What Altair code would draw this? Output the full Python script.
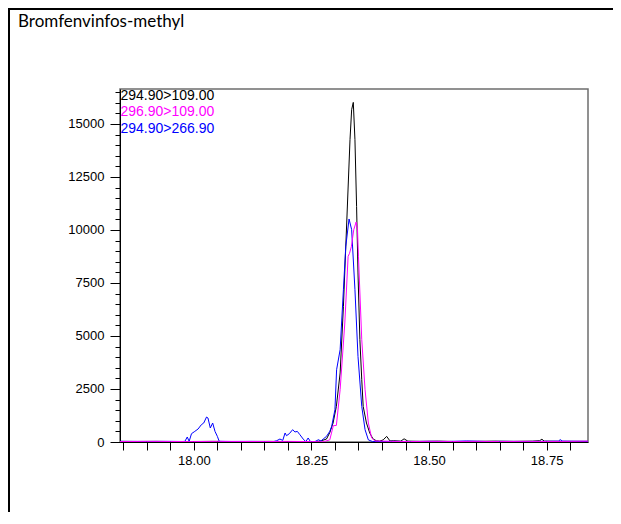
import altair as alt
import pandas as pd

title_text = "Bromfenvinfos-methyl"
series_names = ["294.90>109.00", "296.90>109.00", "294.90>266.90"]
series_colors = ["#000000", "#ff00ff", "#0000ff"]

black_t = [17.843, 17.88, 17.92, 17.96, 18.00, 18.04, 18.08, 18.12, 18.16, 18.20, 18.24, 18.26, 18.27,
           18.282, 18.289, 18.296, 18.303, 18.311, 18.318, 18.325, 18.332, 18.3355, 18.339, 18.3425,
           18.346, 18.349, 18.353, 18.357, 18.360, 18.367, 18.374, 18.381, 18.388, 18.395, 18.4025,
           18.41, 18.417, 18.425, 18.44, 18.447, 18.455, 18.48, 18.52, 18.56, 18.60, 18.64, 18.68,
           18.72, 18.735, 18.74, 18.745, 18.78, 18.838]
black_v = [30, 25, 30, 20, 25, 30, 20, 25, 30, 20, 10, 20, 50,
           140, 440, 896, 1679, 3255, 6396, 10330, 14260, 15675, 16019, 14260,
           11113, 7972, 4826, 2939, 1679, 896, 425, 140, 60, 40, 100,
           264, 50, 60, 40, 150, 40, 30, 40, 20, 30, 40, 30,
           40, 60, 130, 40, 30, 30]

magenta_t = [17.843, 17.90, 17.95, 18.00, 18.05, 18.10, 18.15, 18.20, 18.25, 18.275, 18.289, 18.2965,
             18.303, 18.311, 18.321, 18.328, 18.331, 18.335, 18.340, 18.345, 18.348, 18.350, 18.357,
             18.364, 18.371, 18.378, 18.385, 18.42, 18.46, 18.50, 18.55, 18.60, 18.65, 18.70, 18.75,
             18.80, 18.838]
magenta_v = [20, 30, 25, 20, 30, 25, 20, 30, 20, 10, 100, 770,
             780, 2467, 5613, 8755, 8900, 9226, 10014, 10377, 10014, 8755, 4826,
             2467, 896, 189, 50, 30, 20, 30, 25, 30, 20, 30, 25,
             30, 40]

blue_t = [17.843, 17.90, 17.95, 17.975, 17.981, 17.986, 17.990, 17.995, 18.002, 18.009, 18.016,
          18.021, 18.027, 18.030, 18.035, 18.040, 18.045, 18.050, 18.054, 18.08, 18.12, 18.16,
          18.169, 18.176, 18.183, 18.189, 18.194, 18.197, 18.203, 18.210, 18.215, 18.220, 18.2255,
          18.2325, 18.238, 18.243, 18.248, 18.257, 18.265, 18.270, 18.275, 18.282, 18.289, 18.293,
          18.300, 18.3035, 18.311, 18.318, 18.323, 18.330, 18.3355, 18.3425, 18.349, 18.357,
          18.364, 18.371, 18.38, 18.42, 18.46, 18.50, 18.54, 18.58, 18.62, 18.66, 18.70, 18.74,
          18.775, 18.779, 18.784, 18.838]
blue_v = [30, 25, 30, 25, 30, 236, 30, 392, 500, 613, 816,
          896, 1179, 1132, 660, 896, 500, 264, 30, 25, 30, 20,
          15, 60, 140, 75, 425, 297, 392, 580, 472, 500, 344,
          140, 15, 189, 15, 15, 108, 45, 140, 264, 500, 736,
          1524, 3410, 4354, 7184, 9226, 10519, 10014, 7184, 4038, 1679,
          580, 100, 20, 30, 25, 30, 25, 50, 25, 30, 25, 30,
          40, 110, 40, 30]

x_tick_values = [17.85, 17.90, 17.95, 18.00, 18.05, 18.10, 18.15, 18.20, 18.25, 18.30, 18.35,
                 18.40, 18.45, 18.50, 18.55, 18.60, 18.65, 18.70, 18.75, 18.80]
x_major_labels = ["18.00", "18.25", "18.50", "18.75"]
y_tick_values = [0, 500, 1000, 1500, 2000, 2500, 3000, 3500, 4000, 4500, 5000, 5500, 6000, 6500,
                 7000, 7500, 8000, 8500, 9000, 9500, 10000, 10500, 11000, 11500, 12000, 12500,
                 13000, 13500, 14000, 14500, 15000, 15500, 16000, 16500]
x_domain = [17.843, 18.838]
y_domain = [0, 16650]

W, H = 468, 353
PAD_L, PAD_T, PAD_R, PAD_B = 112, 81, 25, 70

x_scale = alt.Scale(domain=x_domain, nice=False, zero=False)
y_scale = alt.Scale(domain=y_domain, nice=False)

x_axis = alt.Axis(
    title=None, values=x_tick_values, grid=False, tickSize=8, tickColor="black",
    domainColor="black", labelFont="Liberation Sans", labelFontSize=13, labelColor="black",
    labelPadding=4, labelOverlap=False, labelFlush=False,
    labelExpr="indexof(" + str(x_major_labels) + ", format(datum.value, '.2f')) >= 0 ? format(datum.value, '.2f') : ''",
)
y_axis = alt.Axis(
    title=None, values=y_tick_values, grid=False, format="d",
    tickSize={"condition": {"test": "datum.value % 2500 === 0", "value": 10}, "value": 5},
    tickColor="black", domainColor="black", labelFont="Liberation Sans", labelFontSize=13,
    labelColor="black", labelPadding=6, labelOverlap=False,
    labelExpr="datum.value % 2500 === 0 ? datum.label : ''",
)


def series_chart(ts, vs, color):
    df = pd.DataFrame({"t": ts, "v": vs})
    return alt.Chart(df).mark_line(color=color, strokeWidth=1, clip=True).encode(
        x=alt.X("t:Q", scale=x_scale, axis=x_axis),
        y=alt.Y("v:Q", scale=y_scale, axis=y_axis),
        order="t:Q",
    )


lines = [
    series_chart(black_t, black_v, series_colors[0]),
    series_chart(blue_t, blue_v, series_colors[2]),
    series_chart(magenta_t, magenta_v, series_colors[1]),
]

legend_texts = []
for i, (name, col) in enumerate(zip(series_names, series_colors)):
    legend_texts.append(
        alt.Chart(pd.DataFrame({"label": [name]})).mark_text(
            align="left", baseline="middle", x=0.5, y=6.7 + 16.5 * i, color=col,
            font="Liberation Sans", fontSize=14,
        ).encode(text="label:N")
    )

title_mark = alt.Chart(pd.DataFrame({"label": [title_text]})).mark_text(
    align="left", baseline="alphabetic", x=-102, y=-62, color="black", font="Lato", fontSize=17,
).encode(text="label:N")

top_frame = alt.Chart(pd.DataFrame({"a": [0]})).mark_rule(color="black", strokeWidth=2).encode(
    x=alt.value(-PAD_L), x2=alt.value(W + PAD_R), y=alt.value(-PAD_T + 1)
)
left_frame = alt.Chart(pd.DataFrame({"a": [0]})).mark_rule(color="black", strokeWidth=2).encode(
    x=alt.value(-PAD_L + 1), y=alt.value(-PAD_T), y2=alt.value(H + PAD_B)
)

chart = alt.layer(*lines, *legend_texts, title_mark, top_frame, left_frame).properties(
    width=W, height=H,
    autosize=alt.AutoSizeParams(type="none"),
    padding={"left": PAD_L, "top": PAD_T, "right": PAD_R, "bottom": PAD_B},
    background="white",
).configure_view(stroke="#6e6e6e", strokeWidth=1.5)

chart.save("out.html", embed_options={"renderer": "svg", "actions": False})
